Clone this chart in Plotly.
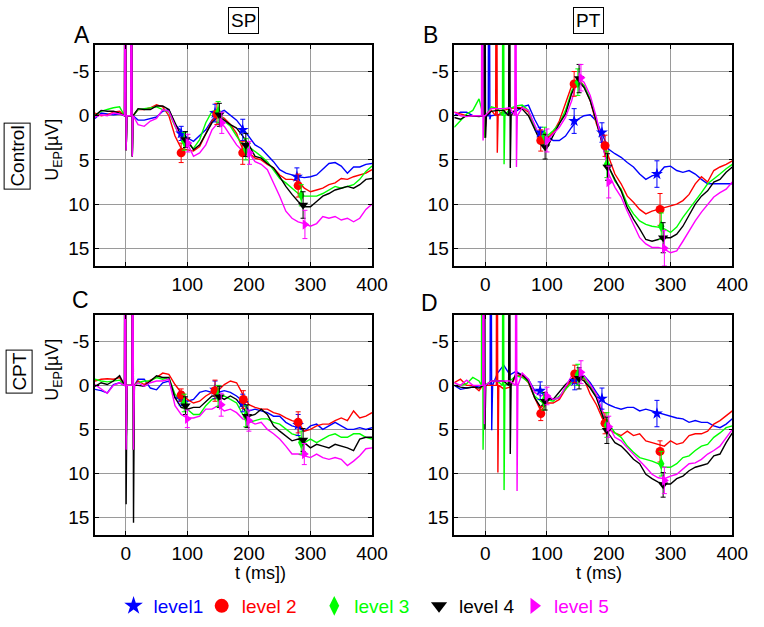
import plotly.graph_objects as go

W, H = 764, 627

# ---------------- data ----------------
T = list(range(-50, 401, 10))

LEVELS = ["level1", "level 2", "level 3", "level 4", "level 5"]
COLORS = ["#0000FF", "#FF0000", "#00FF00", "#000000", "#FF00FF"]
SYMBOLS = ["star", "circle", "diamond-tall", "triangle-down", "triangle-right"]

# Panel A (Control, SP)
A_L1 = [0.3, -0.3, -0.2, -0.1, -0.2, 0, 0.3, 0.5, 0.5, 0.3, 0.15, -0.5, -0.7, 1.0, 1.8, 2.5, 2.9, 2.3, 1.6, 0.5,
        -0.3, -0.6, -0.1, 0.5, 1.4, 2.3, 3.3, 3.7, 4.4, 5.2, 6.1, 6.5, 6.7, 6.9, 7.0, 6.9, 6.7, 6.1, 5.4, 5.3,
        5.7, 6.5, 5.8, 5.8, 5.5, 5.4]
A_L2 = [-0.3, 0, -0.1, -0.4, -0.5, 0, -0.3, -0.7, -0.7, -0.9, -1.25, -1.0, 0, 2.3, 3.7, 3.85, 4.0, 3.5, 2.0, 0.6,
        -0.1, 0.3, 1.0, 2.0, 3.8, 4.2, 4.8, 5.0, 5.5, 5.9, 6.7, 7.2, 7.2, 7.4, 8.2, 8.6, 8.4, 8.2, 7.8, 7.6,
        7.1, 7.2, 6.9, 6.7, 6.5, 6.1]
A_L3 = [0, -0.5, -0.7, -0.9, -1.0, 0, -0.3, -0.7, -0.8, -0.9, -1.0, -0.7, -0.4, 1.2, 2.7, 3.1, 3.7, 2.7, 0.8, -0.5,
        -0.6, 0.6, 1.2, 2.3, 3.3, 3.5, 4.0, 4.6, 5.2, 6.1, 7.1, 7.6, 8.2, 8.8, 9.1, 9.1, 9.1, 8.8, 8.4, 8.0,
        8.2, 8.0, 7.8, 7.2, 6.3, 5.7]
A_L4 = [0, -0.6, -0.5, -0.5, -0.3, 0, -0.5, -0.8, -0.7, -0.7, -1.1, -1.1, -0.7, 0.8, 2.3, 2.7, 3.85, 3.3, 2.0, 0.8,
        0.1, 0.5, 1.0, 1.4, 2.3, 3.3, 4.6, 4.8, 5.4, 5.9, 6.9, 8.0, 8.9, 9.7, 10.3, 10.3, 9.7, 9.1, 8.8, 8.4,
        8.2, 8.0, 8.2, 7.8, 7.2, 7.1]
A_L5 = [0.15, -0.1, 0, -0.3, -0.2, 0, 0.5, 1.0, 1.2, 0.6, 0.3, -0.7, -0.5, 1.2, 2.7, 3.1, 4.6, 4.2, 3.3, 1.6,
        0.8, 1.2, 2.2, 3.3, 4.0, 4.2, 5.2, 5.5, 6.1, 7.6, 9.1, 10.8, 11.6, 12.0, 12.2, 12.5, 12.2, 11.4, 11.6, 11.4,
        11.8, 11.6, 12.0, 11.6, 10.6, 10.0]

# Panel B (Control, PT)
B_L1 = [0, -0.4, -0.4, 0, 0, 0, 0.2, -0.1, -0.3, -0.3, -0.5, -1.0, -1.2, 0.4, 1.7, 2.3, 2.8, 2.8, 2.3, 1.3,
        0.4, 0, -0.1, 0.6, 2.3, 3.8, 4.3, 4.7, 5.3, 5.8, 6.6, 7.2, 6.8, 6.6, 5.8, 5.7, 6.2, 6.4, 6.2, 6.6,
        7.2, 7.7, 7.7, 7.7, 7.7, 7.7]
B_L2 = [-0.4, -0.2, 0, 0, 0, 0, -0.6, 0, -0.6, -0.8, -0.9, -0.9, -0.4, 1.3, 2.8, 2.6, 1.9, 0.6, -1.3, -3.4,
        -4.2, -3.4, -1.7, 0.9, 2.8, 4.7, 6.6, 7.7, 9.1, 9.8, 10.6, 11.1, 10.8, 10.6, 10.4, 10.2, 10.0, 9.6, 8.9, 7.7,
        6.9, 7.5, 6.2, 5.8, 5.5, 5.1]
B_L3 = [1.3, 0.6, -0.2, -0.6, -1.9, 0, -1.0, -0.8, -0.8, -0.8, -1.1, -1.2, -0.6, 1.3, 2.5, 2.3, 1.7, 0.9, -0.6, -2.8,
        -4.0, -3.4, -1.9, 0.6, 3.0, 5.8, 7.4, 8.3, 10.0, 11.1, 11.9, 12.3, 12.5, 12.6, 12.8, 13.2, 12.6, 11.5, 10.6, 9.6,
        8.7, 7.7, 7.2, 6.6, 6.0, 5.5]
B_L4 = [0.2, 0.4, 0, 0, 0.1, 0, -0.5, -0.6, -0.6, -0.7, -0.9, -0.75, 0, 1.5, 3.0, 3.6, 2.3, 0.9, -0.2, -2.5,
        -4.0, -3.2, -1.7, 0.6, 3.4, 5.8, 7.2, 8.5, 10.4, 11.7, 12.8, 14.0, 14.2, 14.0, 13.8, 13.8, 13.4, 12.5, 11.3, 10.0,
        9.1, 8.5, 7.5, 7.2, 6.4, 5.8]
B_L5 = [-0.4, 0, 0.1, 0, 0, 0, -0.8, -0.8, -0.8, -0.9, -1.0, -0.9, -0.6, 1.1, 2.6, 2.8, 2.1, 1.3, 0.2, -1.7,
        -4.3, -3.8, -2.3, 0.2, 3.2, 6.6, 8.1, 9.2, 10.8, 12.3, 13.8, 14.5, 14.9, 14.9, 15.1, 15.5, 15.3, 14.2, 13.0, 11.9,
        10.9, 10.0, 9.2, 8.7, 8.3, 7.5]

# Panel C (CPT, SP)
C_L1 = [0.45, 0.6, 0.85, -0.1, -0.3, 0, 0, -0.7, -0.7, 0.3, 0.5, -0.3, -0.5, 1.4, 1.6, 1.8, 1.6, 0.8, 0.6, 0.8,
        0.8, 0.6, 0.8, 1.2, 1.8, 2.9, 2.7, 2.9, 3.1, 3.5, 3.5, 4.2, 4.6, 4.8, 5.2, 4.6, 4.4, 5.0, 4.6, 4.2,
        4.6, 5.0, 5.0, 4.8, 5.0, 4.8]
C_L2 = [-0.5, -0.7, -0.75, -0.7, -0.9, 0, 0, -0.5, -0.1, -0.6, -0.9, -1.4, -1.25, -0.1, 0.8, 1.6, 2.0, 1.8, 1.2, 0.8,
        0.6, -0.1, -0.5, -0.3, 1.0, 2.2, 2.5, 2.7, 2.7, 3.1, 3.3, 3.7, 4.0, 4.2, 5.2, 5.0, 4.6, 4.4, 4.4, 4.0,
        3.7, 4.0, 2.9, 3.7, 3.5, 3.1]
C_L3 = [-0.7, -0.5, -0.4, -0.5, -0.6, 0, 0, -0.3, -0.5, -0.5, -0.9, -0.7, -0.9, 1.0, 1.8, 2.7, 3.3, 3.3, 2.3, 1.6,
        1.4, 1.2, 1.6, 2.0, 3.3, 4.2, 4.0, 3.8, 3.8, 4.2, 4.4, 5.0, 5.5, 5.7, 6.5, 6.1, 6.5, 6.1, 5.7, 5.5,
        5.9, 5.9, 5.5, 5.5, 5.9, 6.1]
C_L4 = [0.1, -0.3, -0.1, -0.5, -1.1, 0, 0, 0, 0.1, -0.5, -1.1, -0.9, -0.9, 1.4, 2.5, 2.7, 2.5, 2.5, 1.8, 1.2,
        1.2, 1.6, 1.2, 1.6, 2.5, 3.5, 3.3, 2.7, 3.3, 4.6, 5.2, 5.7, 6.3, 6.1, 6.5, 7.1, 6.7, 6.9, 7.1, 6.7,
        6.9, 7.1, 7.4, 6.1, 5.9, 5.9]
C_L5 = [-0.1, 0.45, 0.9, 0, -0.3, 0, 0, -0.3, 0.1, -0.3, -0.5, -0.5, -0.7, 2.3, 3.3, 3.7, 3.7, 3.5, 2.7, 2.7,
        2.3, 2.9, 2.7, 3.1, 3.8, 4.0, 4.4, 4.2, 5.0, 5.5, 6.1, 6.9, 7.8, 7.8, 8.0, 8.2, 7.8, 8.2, 8.4, 8.2,
        8.4, 9.1, 8.6, 8.0, 7.2, 7.1]

# Panel D (CPT, PT)
D_L1 = [0, 0.45, 0.3, 0.2, 0.1, 0, 0, -1.4, -2.3, -1.2, -1.6, -1.1, -0.7, 0.6, 0.6, 1.4, 1.6, 1.4, 0.3, -0.5,
        -1.2, -1.1, -0.3, 0.8, 1.8, 2.2, 2.5, 2.7, 2.5, 2.5, 2.9, 2.7, 2.9, 3.1, 3.3, 3.5, 3.7, 3.8, 4.2, 4.0,
        4.2, 4.2, 4.6, 4.8, 4.4, 3.8]
D_L2 = [-0.3, -0.7, 0, 0, 0.6, 0, 0, 0, 0.4, 0.2, -1.1, -1.1, -0.3, 1.4, 2.9, 2.0, 2.0, 1.6, 0.45, -0.7,
        -1.4, -0.7, 1.0, 2.2, 3.8, 5.0, 5.4, 5.7, 5.2, 5.7, 5.5, 6.3, 6.5, 6.7, 6.9, 6.3, 6.7, 6.5, 5.7, 5.5,
        5.5, 5.2, 4.4, 4.0, 3.5, 2.9]
D_L3 = [0, 0, -0.2, -0.9, -0.5, 0, -0.5, -0.5, -0.5, -0.5, -1.1, -0.9, -0.4, 1.2, 1.8, 1.6, 1.8, 1.2, 0.45, -0.3,
        -0.7, -0.9, 0.1, 1.2, 3.3, 4.4, 5.4, 5.9, 6.9, 7.6, 8.2, 8.4, 8.6, 8.9, 9.3, 9.3, 8.9, 8.2, 8.0, 7.4,
        6.9, 6.7, 5.9, 5.4, 4.8, 4.6]
D_L4 = [0, 0.2, 0.3, 0.2, 0.3, 0, -0.5, -0.5, -0.5, -1.0, -1.4, -1.2, -0.5, 1.4, 2.5, 1.4, 1.6, 0.8, -0.1, -0.7,
        -0.9, -0.5, 0.3, 1.4, 3.5, 5.5, 6.5, 6.9, 7.6, 8.4, 8.9, 10.1, 10.6, 11.0, 11.2, 11.2, 10.6, 10.3, 9.7, 9.3,
        9.1, 8.9, 8.0, 7.8, 6.5, 5.4]
D_L5 = [-0.3, 0, -0.6, 0, 0, 0, -0.5, -0.5, -0.5, -0.5, -1.0, -1.4, -0.7, 0.8, 1.2, 1.0, 1.6, 1.4, 0.1, -1.1,
        -1.4, -1.1, -0.1, 1.0, 2.9, 4.6, 5.9, 6.3, 7.1, 7.8, 8.6, 9.3, 10.1, 10.5, 10.6, 10.3, 10.1, 9.5, 8.9, 8.8,
        8.4, 7.8, 7.4, 6.9, 5.9, 5.0]

# stimulus artefacts: (time ms, lowest value reached)
A_SPIKES = [[(0, 3.9), (10, 4.6)]] * 5
B_SPIKES = [[(-1, 2.5), (7, 0.4)], [(-1, 2.5), (19, 4.2)], [(-1, 2.5), (30, 5.5)],
            [(0, 2.5), (40, 5.9)], [(-4, 2.8), (50, 5.8)]]
C_SPIKES = [[(0, 7.3), (12, 7.3)], [(0, 7.3), (12, 7.3)], [(0, 7.3), (12, 7.3)],
            [(0, 13.5), (12, 15.6)], [(0, 7.3), (12, 7.3)]]
D_SPIKES = [[(-2, 4.0), (10, 5.1)], [(-2, 4.0), (20, 9.9)], [(-4, 7.3), (30, 11.9)],
            [(-1, 5.0), (40, 7.8)], [(-2, 4.4), (51, 12.0)]]

# markers with error bars: times, values, errors per level
A_MT = [[90, 145, 190, 278], [90, 148, 190, 280], [95, 150, 195, 285], [97, 152, 195, 288], [101, 156, 201, 291]]
A_MY = [[2.0, -0.3, 1.6, 6.9], [4.2, -0.2, 4.2, 7.9], [2.9, -0.4, 3.8, 9.0], [2.7, -0.1, 3.3, 10.1], [3.1, 0.8, 4.2, 12.3]]
A_ME = [[0.8, 1.0, 1.2, 1.0], [1.1, 1.2, 1.3, 1.3], [1.0, 1.2, 1.2, 1.2], [0.9, 1.3, 1.3, 1.5], [1.0, 1.2, 1.3, 1.6]]

B_MT = [[89, 144, 189, 278], [90, 144, 194, 283], [96, 150, 197, 285], [97, 152, 198, 288], [100, 155, 200, 290]]
B_MY = [[1.9, 0.6, 1.9, 6.6], [2.8, -3.6, 3.4, 10.6], [2.3, -3.8, 5.5, 12.5], [3.5, -4.2, 5.8, 13.8], [2.8, -4.3, 7.5, 15.0]]
B_ME = [[0.6, 1.4, 1.1, 1.5], [1.2, 1.4, 1.2, 1.8], [1.0, 1.5, 1.5, 1.5], [1.4, 1.6, 1.5, 1.7], [1.3, 1.5, 1.8, 2.0]]

C_MT = [[90, 145, 190, 280], [90, 145, 191, 280], [95, 150, 195, 285], [97, 152, 197, 288], [100, 155, 200, 290]]
C_MY = [[1.5, 0.5, 2.0, 4.5], [1.1, 0.6, 1.6, 4.2], [2.0, 1.2, 3.5, 6.5], [2.3, 1.3, 3.5, 6.2], [3.8, 2.2, 4.0, 7.8]]
C_ME = [[0.8, 1.0, 1.0, 1.2], [0.7, 1.2, 1.0, 1.2], [1.0, 1.2, 1.2, 1.3], [1.0, 1.2, 1.3, 1.3], [1.0, 1.3, 1.2, 1.2]]

D_MT = [[89, 145, 189, 278], [90, 145, 194, 283], [95, 150, 197, 285], [97, 152, 197, 288], [100, 155, 200, 290]]
D_MY = [[0.6, -0.5, 1.5, 3.2], [3.2, -1.3, 4.3, 7.5], [1.8, -1.2, 4.5, 8.9], [1.8, -0.8, 5.1, 11.3], [1.2, -1.5, 4.7, 10.8]]
D_ME = [[1.0, 1.0, 1.2, 1.5], [0.8, 1.0, 1.2, 1.2], [1.0, 1.2, 1.4, 1.4], [1.0, 1.2, 1.5, 1.4], [1.0, 1.3, 1.2, 1.5]]

SPIKE_TOP = -40  # artefacts run off the top of the axes

PANELS = [
    ("x", "y", [A_L1, A_L2, A_L3, A_L4, A_L5], A_SPIKES, A_MT, A_MY, A_ME),
    ("x2", "y2", [B_L1, B_L2, B_L3, B_L4, B_L5], B_SPIKES, B_MT, B_MY, B_ME),
    ("x3", "y3", [C_L1, C_L2, C_L3, C_L4, C_L5], C_SPIKES, C_MT, C_MY, C_ME),
    ("x4", "y4", [D_L1, D_L2, D_L3, D_L4, D_L5], D_SPIKES, D_MT, D_MY, D_ME),
]


def with_spikes(values, spikes):
    pts = [(t, v) for t, v in zip(T, values) if all(abs(t - s) > 3 for s, _ in spikes)]
    for s, depth in spikes:
        pts += [(s - 2, 0.0), (s - 1, SPIKE_TOP), (s + 0.6, depth), (s + 2, 0.0)]
    pts.sort(key=lambda p: p[0])
    return [p[0] for p in pts], [p[1] for p in pts]


fig = go.Figure()
for xa, ya, series, spikes, mt, my, me in PANELS:
    for i in range(5):
        xs, ys = with_spikes(series[i], spikes[i])
        fig.add_trace(go.Scatter(x=xs, y=ys, mode="lines", xaxis=xa, yaxis=ya,
                                 line=dict(color=COLORS[i], width=1.4), showlegend=False,
                                 hoverinfo="skip"))
    for i in range(5):
        fig.add_trace(go.Scatter(x=mt[i], y=my[i], mode="markers", xaxis=xa, yaxis=ya,
                                 marker=dict(color=COLORS[i], symbol=SYMBOLS[i], size=9,
                                             line=dict(width=0)),
                                 error_y=dict(type="data", array=me[i], visible=True,
                                              color=COLORS[i], thickness=1, width=2.5),
                                 showlegend=False))

# legend entries (one legend per level so they can be spaced like the original)
LEG_X = [136, 226, 341, 448, 545]
for i in range(5):
    lname = "legend" if i == 0 else f"legend{i + 1}"
    fig.add_trace(go.Scatter(x=[None], y=[None], mode="markers", xaxis="x", yaxis="y",
                             marker=dict(color=COLORS[i], symbol=SYMBOLS[i], size=14),
                             name=LEVELS[i], legend=lname, showlegend=True))

FONT = "Liberation Sans, Arial, Helvetica, sans-serif"
xdom = [[97 / W, 380 / W], [464 / W, 748 / W]]
ydom = [[1 - 266 / H, 1 - 45 / H], [1 - 535 / H, 1 - 315 / H]]

axcommon = dict(showgrid=True, gridcolor="#9a9a9a", gridwidth=1, zeroline=False,
                showline=True, linecolor="black", linewidth=1.5, mirror="ticks",
                ticks="inside", ticklen=4, tickcolor="black",
                tickfont=dict(family=FONT, size=19, color="black"))

layout = dict(width=W, height=H, margin=dict(l=0, r=0, t=0, b=0),
              paper_bgcolor="white", plot_bgcolor="white", font=dict(family=FONT, color="black"))

xtick_text = [["", "100", "200", "300", "400"], ["0", "100", "200", "300", "400"],
              ["0", "100", "200", "300", "400"], ["0", "100", "200", "300", "400"]]
for k in range(4):
    col = k % 2
    row = k // 2
    sx = "" if k == 0 else str(k + 1)
    layout["xaxis" + sx] = dict(axcommon, domain=xdom[col], range=[-50, 400],
                                tickvals=[0, 100, 200, 300, 400], ticktext=xtick_text[k],
                                anchor="y" + sx)
    layout["yaxis" + sx] = dict(axcommon, domain=ydom[row], range=[17, -8],
                                tickvals=[-5, 0, 5, 10, 15], ticktext=["-5", "0", "5", "10", "15"],
                                anchor="x" + sx, ticklabelstandoff=0)

for i in range(5):
    lname = "legend" if i == 0 else f"legend{i + 1}"
    layout[lname] = dict(x=(LEG_X[i] - 20) / W, xanchor="left", y=1 - 606 / H, yanchor="middle",
                         orientation="h", bgcolor="rgba(0,0,0,0)", borderwidth=0,
                         font=dict(family=FONT, size=19, color=COLORS[i]), itemwidth=30)

fig.update_layout(**layout)


def ann(text, px, py, size=17, angle=0, box=False):
    d = dict(text=text, x=px / W, y=1 - py / H, xref="paper", yref="paper",
             showarrow=False, xanchor="center", yanchor="middle", textangle=angle,
             font=dict(family=FONT, size=size, color="black"))
    if box:
        d.update(bordercolor="black", borderwidth=1, borderpad=2)
    fig.add_annotation(**d)


ann("SP", 249, 20, 19, box=True)
ann("PT", 601, 20, 19, box=True)
ann("Control", 18, 156, 19, angle=-90, box=True)
ann("CPT", 19, 372, 19, angle=-90, box=True)
ann("U<sub>EP</sub>[µV]", 54, 150, 18, angle=-90)
ann("U<sub>EP</sub>[µV]", 54, 370, 18, angle=-90)
ann("A", 84, 35, 23)
ann("B", 440, 35, 23)
ann("C", 82, 300, 23)
ann("D", 439, 303, 23)
ann("t (ms])", 266, 573, 18)
ann("t (ms)", 612, 573, 18)

fig.write_html("out.html", config={"displayModeBar": False},
               post_script="document.body.style.margin='0';document.body.style.padding='0';")
